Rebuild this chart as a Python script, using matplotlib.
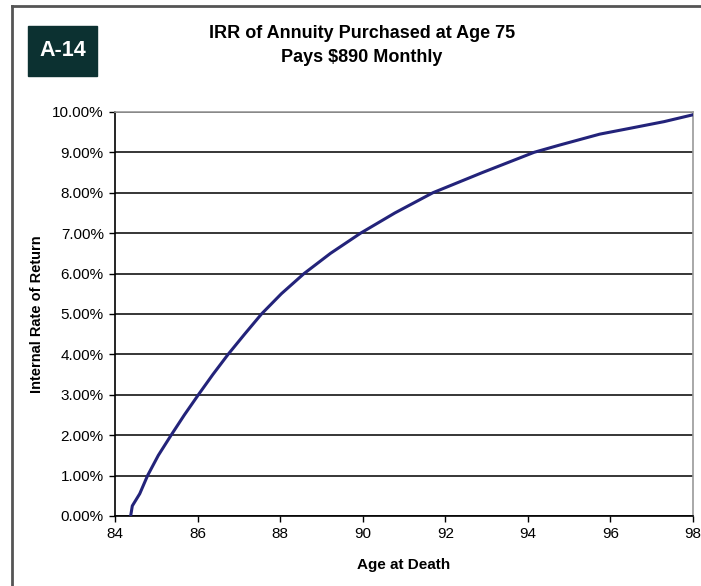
import matplotlib
matplotlib.use("Agg")
import matplotlib.pyplot as plt
from matplotlib.patches import Rectangle
from matplotlib.lines import Line2D
from matplotlib.ticker import FuncFormatter

plt.rcParams['font.family'] = ['Liberation Sans', 'DejaVu Sans']

# age at death vs internal rate of return (%)
age = [84.38, 84.42, 84.60, 84.79, 85.05, 85.36, 85.68, 86.02, 86.37,
       86.74, 87.14, 87.55, 88.03, 88.58, 89.22, 89.95, 90.78, 91.70,
       92.90, 94.15, 94.77, 95.74, 96.50, 97.30, 98.00]
irr = [0.00, 0.25, 0.55, 1.00, 1.50, 2.00, 2.50, 3.00, 3.50,
       4.00, 4.50, 5.00, 5.50, 6.00, 6.50, 7.00, 7.50, 8.00,
       8.50, 9.00, 9.18, 9.45, 9.60, 9.76, 9.93]

x_ticks = [84, 86, 88, 90, 92, 94, 96, 98]
y_ticks = list(range(0, 11))

fig = plt.figure(figsize=(7.01, 5.86), dpi=100)
ax = fig.add_axes([0.164, 0.1195, 0.8246, 0.6895])

ax.plot(age, irr, color='#23237a', linewidth=2.2, zorder=3)

ax.set_xlim(84, 98)
ax.set_ylim(0, 10)
ax.set_xticks(x_ticks)
ax.set_yticks(y_ticks)
ax.yaxis.set_major_formatter(FuncFormatter(lambda v, p: '{:.2f}%'.format(v)))
ax.grid(axis='y', color='black', linewidth=1.1)
ax.tick_params(direction='out', length=4, width=1, labelsize=11,
               colors='black', pad=4)

for s in ['left', 'bottom']:
    ax.spines[s].set_color('black')
    ax.spines[s].set_linewidth(1.2)
for s in ['top', 'right']:
    ax.spines[s].set_color('#999999')
    ax.spines[s].set_linewidth(1.2)

ax.set_xlabel('Age at Death', fontsize=11, fontweight='bold', labelpad=12)
ax.set_ylabel('Internal Rate of Return', fontsize=10.5, fontweight='bold', labelpad=6)

# title
fig.text(362 / 701, 1 - 34 / 586, 'IRR of Annuity Purchased at Age 75',
         ha='center', va='center', fontsize=13, fontweight='bold')
fig.text(362 / 701, 1 - 58 / 586, 'Pays $890 Monthly',
         ha='center', va='center', fontsize=13, fontweight='bold')

# label box
fig.patches.append(Rectangle((28 / 701, 1 - 76 / 586), 69 / 701, 50 / 586,
                             transform=fig.transFigure, color='#0c3131'))
fig.text(62.5 / 701, 1 - 51 / 586, 'A-14', ha='center', va='center',
         color='white', fontsize=15.5, fontweight='bold')

# outer frame (left and top)
fig.lines.append(Line2D([12 / 701, 12 / 701], [0, 1 - 6 / 586],
                        transform=fig.transFigure, color='#555555', linewidth=2))
fig.lines.append(Line2D([12 / 701, 1], [1 - 6 / 586, 1 - 6 / 586],
                        transform=fig.transFigure, color='#555555', linewidth=2))

fig.savefig('out.png', dpi=100)
